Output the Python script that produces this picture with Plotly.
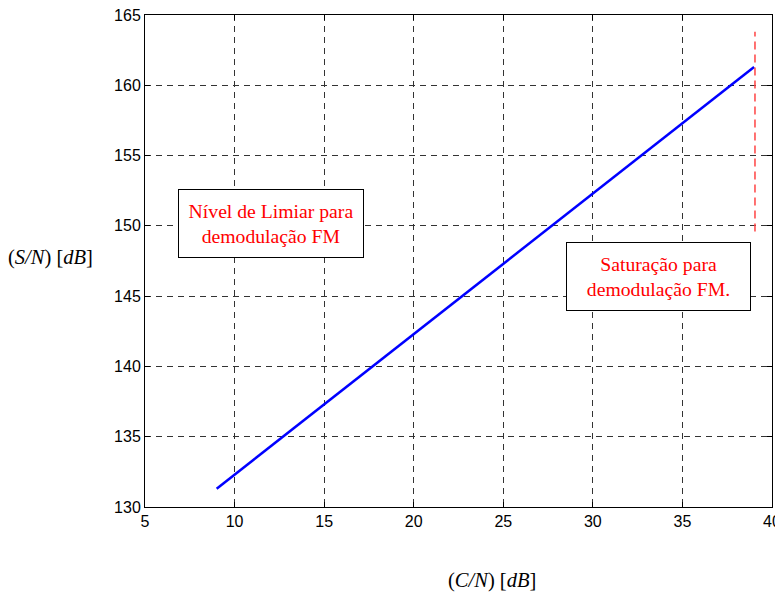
import plotly.graph_objects as go

# Data
c_n = [9, 10, 15, 20, 25, 30, 35, 39]
s_n = [131.3, 132.3, 137.3, 142.3, 147.3, 152.3, 157.3, 161.3]
sat_x = [39.05, 39.05]
sat_y = [149.6, 163.8]

x_ticks = [5, 10, 15, 20, 25, 30, 35, 40]
y_ticks = [130, 135, 140, 145, 150, 155, 160, 165]

label_threshold = "Nível de Limiar para<br>demodulação FM"
label_saturation = "Saturação para<br>demodulação FM."

fig = go.Figure()
fig.add_trace(go.Scatter(x=c_n, y=s_n, mode="lines",
                         line=dict(color="#0000ff", width=2.5),
                         showlegend=False, hoverinfo="skip"))
fig.add_trace(go.Scatter(x=sat_x, y=sat_y, mode="lines",
                         line=dict(color="#ff4444", width=1.5, dash="8px,5px"),
                         showlegend=False, hoverinfo="skip"))

axis_common = dict(
    showline=True, linecolor="black", linewidth=1, mirror="ticks",
    ticks="inside", ticklen=5, tickcolor="black", tickwidth=1,
    showgrid=True, gridcolor="#333333", griddash="6px,5px", gridwidth=1,
    zeroline=False, automargin=False, ticklabeloverflow="allow",
    tickfont=dict(family="Liberation Sans, Arial", size=16, color="black"),
)

fig.update_xaxes(range=[5, 40], tickvals=x_ticks, **axis_common)
fig.update_yaxes(range=[130, 165], tickvals=y_ticks, **axis_common)

serif = "Liberation Serif, Times New Roman, serif"
fig.add_annotation(x=12.03, y=150.17, xref="x", yref="y", text=label_threshold,
                   showarrow=False, font=dict(family=serif, size=19.7, color="red"),
                   bgcolor="white", bordercolor="black", borderwidth=1,
                   borderpad=0, width=184, height=67, align="center")
fig.add_annotation(x=33.69, y=146.38, xref="x", yref="y", text=label_saturation,
                   showarrow=False, font=dict(family=serif, size=19.7, color="red"),
                   bgcolor="white", bordercolor="black", borderwidth=1,
                   borderpad=0, width=183, height=67, align="center")

fig.add_annotation(x=-0.150, y=0.508, xref="paper", yref="paper",
                   xanchor="center", yanchor="middle",
                   text="(<i>S/N</i>) [<i>dB</i>]", showarrow=False,
                   font=dict(family=serif, size=20.5, color="black"))
fig.add_annotation(x=0.553, y=-0.150, xref="paper", yref="paper",
                   xanchor="center", yanchor="middle",
                   text="(<i>C/N</i>) [<i>dB</i>]", showarrow=False,
                   font=dict(family=serif, size=20.5, color="black"))

# page body adds an 8px offset; compensate so the plot area sits at 145..772 x 15..507
fig.update_layout(
    width=775, height=584,
    margin=dict(l=137, r=11, t=7, b=85),
    plot_bgcolor="white", paper_bgcolor="white",
)

fig.write_html("out.html")
